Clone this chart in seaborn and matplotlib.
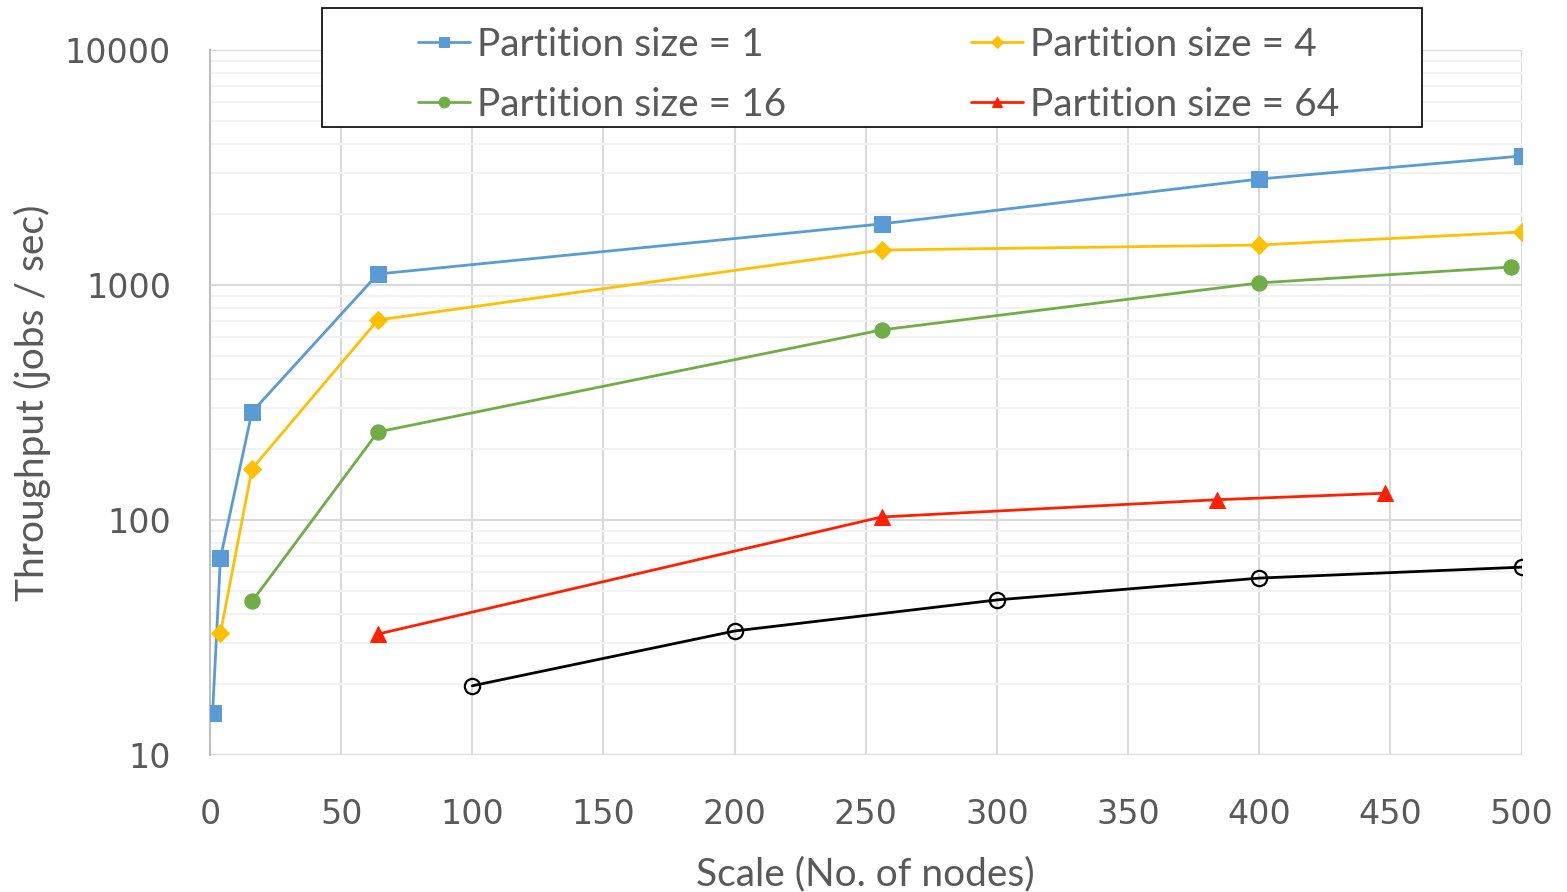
import matplotlib
matplotlib.use("Agg")
import matplotlib.pyplot as plt
import seaborn as sns
from matplotlib.patches import Rectangle
from matplotlib.ticker import LogLocator, FixedLocator, NullFormatter

# Data
x_p1 = [1, 4, 16, 64, 256, 400, 500]
y_p1 = [15.1, 69, 288, 1114, 1820, 2826, 3540]

x_p4 = [4, 16, 64, 256, 400, 500]
y_p4 = [33, 165, 710, 1409, 1480, 1681]

x_p16 = [16, 64, 256, 400, 496]
y_p16 = [45, 237, 644, 1021, 1193]

x_p64 = [64, 256, 384, 448]
y_p64 = [32.7, 103, 122, 130]

x_base = [100, 200, 300, 400, 500]
y_base = [19.7, 33.7, 45.7, 56.6, 63]

labels = ["Partition size = 1", "Partition size = 4",
          "Partition size = 16", "Partition size = 64"]
x_ticks = [0, 50, 100, 150, 200, 250, 300, 350, 400, 450, 500]
y_ticks = [10, 100, 1000, 10000]

sns.set_style("white")
plt.rcParams["font.family"] = ["Lato", "DejaVu Sans"]
text_color = "#595959"

fig = plt.figure(figsize=(15.67, 8.92), dpi=100)
ax = fig.add_axes([0.134, 0.1536, 0.837, 0.7903])

series = [
    (x_p1, y_p1, labels[0], "#5B9BD5", "s", 11),
    (x_p4, y_p4, labels[1], "#FFC000", "D", 9),
    (x_p16, y_p16, labels[2], "#70AD47", "o", 11),
    (x_p64, y_p64, labels[3], "#FF2000", "^", 11),
]
for xs, ys, lab, col, mk, ms in series:
    sns.lineplot(x=xs, y=ys, ax=ax, color=col, marker=mk, markersize=ms,
                 markeredgecolor=col, linewidth=2, label=lab, zorder=3)

# unlabeled baseline series (open black circles)
sns.lineplot(x=x_base, y=y_base, ax=ax, color="black", marker="o",
             markersize=11, markerfacecolor="none", markeredgecolor="black",
             markeredgewidth=1.6, linewidth=2, legend=False, zorder=3)

ax.set_yscale("log")
ax.set_xlim(0, 500)
ax.set_ylim(10, 10000)
ax.xaxis.set_major_locator(FixedLocator(x_ticks))
ax.yaxis.set_major_locator(FixedLocator(y_ticks))
ax.yaxis.set_minor_locator(LogLocator(base=10, subs=range(2, 10)))
ax.yaxis.set_minor_formatter(NullFormatter())
ax.set_yticklabels([str(v) for v in y_ticks])

ax.grid(which="major", axis="both", color="#D9D9D9", linewidth=1.5, zorder=0)
ax.grid(which="minor", axis="y", color="#F2F2F2", linewidth=1.5, zorder=0)
ax.set_axisbelow(True)
for s in ["top", "right", "bottom"]:
    ax.spines[s].set_visible(False)
ax.spines["left"].set_color("#BFBFBF")
ax.spines["left"].set_linewidth(1.5)

ax.tick_params(axis="both", which="both", length=0, labelsize=24,
               labelcolor=text_color)
ax.tick_params(axis="x", pad=31)
ax.tick_params(axis="y", pad=28)
for t in ax.get_xticklabels() + ax.get_yticklabels():
    t.set_family("DejaVu Sans")

ax.set_xlabel("Scale (No. of nodes)", fontsize=28, color=text_color, labelpad=18)
ax.set_ylabel("Throughput (jobs / sec)", fontsize=28, color=text_color, labelpad=10)

# legend box (drawn separately so the entries can sit inside with padding)
box = Rectangle((322 / 1567, 1 - 127 / 892), 1100 / 1567, 119 / 892,
                transform=fig.transFigure, facecolor="white",
                edgecolor="black", linewidth=1.2, zorder=4)
fig.patches.append(box)

handles, labs = ax.get_legend_handles_labels()
order = [0, 2, 1, 3]  # row-major: 1, 4 / 16, 64
ax.get_legend().remove()
leg = fig.legend([handles[i] for i in order], [labs[i] for i in order],
                 ncol=2, loc="upper left",
                 bbox_to_anchor=(418 / 1567, 1 - 27 / 892),
                 bbox_transform=fig.transFigure, fontsize=28, frameon=False,
                 handlelength=1.34, handletextpad=0.18, columnspacing=4.75,
                 borderpad=0, borderaxespad=0, labelspacing=0.62,
                 markerscale=0.7)
leg.set_zorder(5)
for t in leg.get_texts():
    t.set_color(text_color)

fig.savefig("out.png", dpi=100)
